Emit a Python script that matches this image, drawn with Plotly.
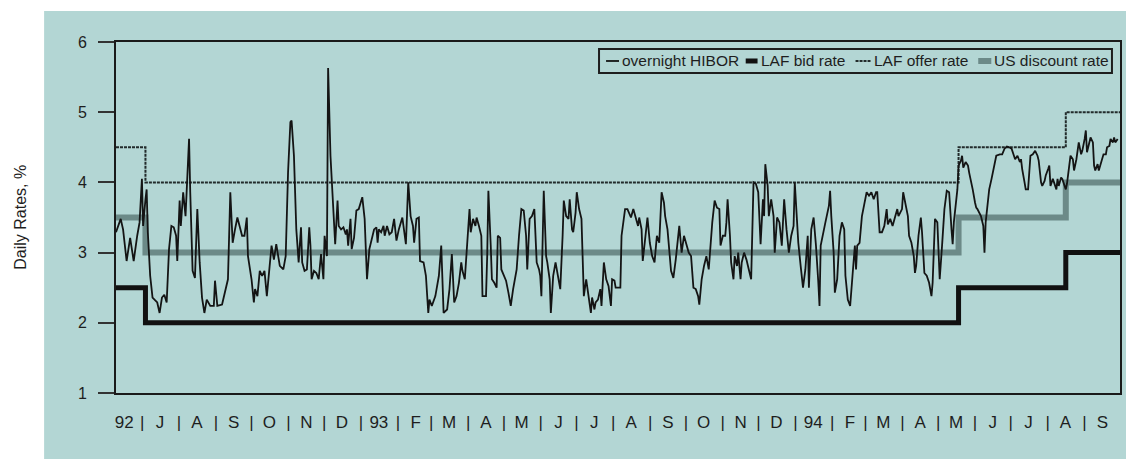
import pandas as pd
import plotly.graph_objects as go

# ---------------- data ----------------
START = "1992-06-01"
END = "1994-10-01"

# overnight HIBOR: days since 1 June 1992, rate %
hibor_day = [0,4,6,9,12,15,18,20,22,23,25,26,27,29,31,35,37,39,41,43,45,47,49,51,52,54,55,57,59,62,63,65,67,69,71,73,75,77,80,83,84,86,90,93,95,97,99,101,103,107,109,111,112,115,117,118,120,122,124,126,128,130,132,134,136,
             139,142,144,146,148,149,151,153,155,157,158,160,162,164,165,166,168,170,172,174,176,177,179,180,182,184,186,188,189,191,193,195,196,197,199,200,202,204,206,209,211,212,213,215,217,219,221,222,223,225,227,228,230,232,234,236,238,240,243,245,246,248,250,252,253,255,257,258,261,263,265,266,268,271,274,276,278,
             281,283,285,287,289,291,293,294,296,298,300,301,303,305,306,308,310,311,314,315,316,318,319,321,323,324,326,327,329,331,333,335,337,340,342,344,346,348,349,351,353,355,357,359,360,361,363,365,366,368,369,371,373,375,377,379,380,382,384,385,387,388,390,391,393,395,396,397,399,401,403,404,406,407,409,411,412,414,416,418,420,421,
             423,424,428,429,432,434,437,439,441,443,444,446,447,449,451,453,455,457,459,461,463,465,466,468,470,471,473,475,478,480,482,484,486,488,490,492,494,495,497,499,501,503,504,506,508,510,512,513,515,517,518,519,521,522,524,525,527,528,530,531,533,535,537,539,541,543,545,546,547,549,550,551,553,554,556,558,559,561,563,
             565,567,569,571,573,575,576,578,579,581,582,583,585,587,588,590,592,594,596,597,598,600,602,605,606,607,609,610,612,614,616,618,619,621,623,625,627,628,629,631,633,635,637,639,641,643,645,646,648,650,652,654,655,657,659,661,663,664,667,668,670,672,673,675,677,678,679,681,683,684,686,688,690,692,693,695,697,698,699,701,703,705,
             707,709,710,711,712,714,715,717,718,719,721,723,724,726,727,729,730,731,733,734,736,737,738,740,741,743,745,747,750,752,754,756,758,760,762,763,765,767,768,769,771,772,774,775,776,778,780,782,783,785,786,788,789,791,792,793,795,796,798,799,800,802,803,805,806,807,809,810,812,813,815,816,817,819,820,822,823,824,826,827,829,830,831,833,834,836,837,838,840,841,843,844,846,847,848,850]
hibor_rate = [3.29,3.48,3.33,2.88,3.21,2.88,3.24,3.43,4.05,3.38,3.76,3.90,3.29,2.67,2.36,2.29,2.14,2.36,2.40,2.29,3.05,3.38,3.36,3.24,2.88,3.74,3.38,3.86,3.52,4.62,3.86,2.74,2.64,3.62,2.86,2.36,2.14,2.33,2.24,2.24,2.60,2.24,2.26,2.48,2.62,3.86,3.14,3.33,3.50,3.24,3.24,3.50,2.95,2.62,2.29,2.48,2.38,2.74,2.67,2.74,2.38,2.74,3.10,2.90,3.12,
              2.81,2.76,2.95,4.14,4.86,4.88,4.38,3.33,2.86,3.36,2.86,2.74,2.76,3.36,3.10,2.62,2.74,2.71,2.62,2.98,2.62,3.24,2.95,5.63,4.38,3.76,3.12,3.74,3.38,3.33,3.36,3.26,3.33,3.10,3.48,3.05,3.21,3.60,3.62,3.79,3.48,3.05,2.62,3.05,3.21,3.33,3.36,3.14,3.33,3.29,3.38,3.24,3.38,3.26,3.29,3.48,3.17,3.33,3.50,3.24,3.12,4.00,3.52,3.38,3.14,3.48,3.50,2.88,2.86,2.67,2.14,2.33,2.24,2.38,2.67,3.10,2.14,
              2.19,2.48,2.98,2.29,2.38,2.57,2.86,2.74,2.62,3.14,3.62,3.29,3.48,3.38,3.50,3.38,3.24,2.38,2.38,2.95,3.88,3.10,2.62,2.57,2.50,3.24,3.21,2.76,2.67,2.60,2.43,2.24,2.48,2.76,3.24,3.62,3.60,3.24,2.76,3.48,3.52,3.62,2.86,2.76,2.67,2.38,3.88,2.95,2.86,2.62,2.14,2.67,2.86,2.67,2.48,3.24,3.74,3.52,3.48,3.76,3.33,3.29,3.57,3.86,3.62,3.48,2.86,2.38,2.62,2.40,2.14,2.36,2.19,2.29,2.33,2.48,2.24,2.86,2.62,2.52,2.24,2.62,
              2.60,2.50,2.50,3.24,3.62,3.62,3.50,3.62,3.48,3.38,3.50,3.33,2.88,3.24,3.50,3.14,2.95,2.86,3.24,3.14,3.86,3.71,3.52,3.33,2.86,2.74,2.64,2.90,3.38,3.00,3.24,3.10,3.00,2.95,2.50,2.48,2.38,2.26,2.62,2.81,2.95,2.76,3.00,3.43,3.74,3.64,3.62,3.10,3.24,3.24,3.43,3.76,3.24,2.86,2.62,2.95,2.81,3.00,2.62,2.86,3.00,2.90,2.76,2.62,4.00,3.98,3.86,3.52,3.12,3.76,3.52,4.26,3.95,3.52,3.76,3.52,3.00,3.50,3.43,
              3.10,3.76,3.33,3.00,3.24,3.38,4.00,3.43,3.14,2.81,2.60,2.50,2.76,3.24,2.50,3.33,3.50,3.10,2.57,2.24,3.10,3.29,3.43,3.67,3.88,3.52,3.00,2.43,2.62,3.24,3.43,3.33,2.67,2.33,2.24,2.67,3.10,2.76,3.10,3.14,3.52,3.69,3.86,3.81,3.86,3.76,3.86,3.86,3.29,3.29,3.38,3.62,3.40,3.48,3.38,3.50,3.62,3.52,3.62,3.86,3.69,3.52,3.24,3.14,2.95,2.71,2.81,3.24,3.50,3.29,2.71,2.67,2.57,2.38,2.57,3.48,3.43,2.95,2.62,3.10,3.62,3.88,
              3.86,3.33,3.12,3.43,3.62,3.90,4.24,4.31,4.38,4.21,4.29,4.24,4.14,4.00,3.90,3.71,3.64,3.62,3.55,3.52,3.38,3.00,3.43,3.71,3.90,4.05,4.24,4.38,4.40,4.40,4.48,4.51,4.50,4.48,4.38,4.33,4.38,4.29,4.33,4.19,4.00,3.90,3.90,4.14,4.38,4.40,4.45,4.38,4.31,4.00,3.95,4.02,4.10,4.19,4.24,3.95,4.05,4.00,3.90,4.05,3.95,4.07,4.05,3.95,3.90,3.98,4.24,4.38,4.33,4.17,4.33,4.43,4.57,4.40,4.45,4.62,4.74,4.43,4.57,4.64,4.57,4.24,4.17,4.26,4.17,4.29,4.31,4.40,4.40,4.50,4.52,4.62,4.57,4.64,4.57,4.62]

# policy rates (step changes)
step_dates = ["1992-06-01", "1992-06-26", "1994-05-17", "1994-08-16", "1994-10-01"]
laf_bid = [2.5, 2.0, 2.5, 3.0, 3.0]
laf_offer = [4.5, 4.0, 4.5, 5.0, 5.0]
us_discount = [3.5, 3.0, 3.5, 4.0, 4.0]

# x-axis month labels (June 1992 .. September 1994)
month_labels = ["92", "J", "A", "S", "O", "N", "D", "93", "F", "M", "A", "M", "J", "J",
                "A", "S", "O", "N", "D", "94", "F", "M", "A", "M", "J", "J", "A", "S"]
y_ticks = [1, 2, 3, 4, 5, 6]

series_names = ["overnight HIBOR", "LAF bid rate", "LAF offer rate", "US discount rate"]

# ---------------- styling ----------------
TEAL = "#b3d6d4"
INK = "#1e1e1e"
FONT = "Arial, Liberation Sans, sans-serif"
styles = {
    "overnight HIBOR": dict(color="#141414", width=1.8),
    "LAF bid rate": dict(color="#111111", width=5),
    "LAF offer rate": dict(color="#222b2b", width=2, dash="3px,1px"),
    "US discount rate": dict(color="#6c8a88", width=6),
}

# ---------------- build ----------------
start = pd.Timestamp(START)
hibor_dates = [start + pd.Timedelta(days=d) for d in hibor_day]

months = pd.date_range(START, periods=len(month_labels), freq="MS")
n = len(month_labels)
tickvals, ticktext = [], []
for i, lab in enumerate(month_labels):
    s = pd.Timedelta(days=8 * (1 - i / (n - 1)))
    tickvals.append(months[i] + pd.Timedelta(days=15) - s)
    ticktext.append(lab)
    if i < n - 1:
        s2 = pd.Timedelta(days=8 * (1 - (i + 0.5) / (n - 1)))
        tickvals.append(months[i + 1] - s2)
        ticktext.append("|")

fig = go.Figure()
fig.add_trace(go.Scatter(x=step_dates, y=us_discount, mode="lines", line_shape="hv",
                         name=series_names[3], line=styles[series_names[3]]))
fig.add_trace(go.Scatter(x=step_dates, y=laf_offer, mode="lines", line_shape="hv",
                         name=series_names[2], line=styles[series_names[2]]))
fig.add_trace(go.Scatter(x=step_dates, y=laf_bid, mode="lines", line_shape="hv",
                         name=series_names[1], line=styles[series_names[1]]))
fig.add_trace(go.Scatter(x=hibor_dates, y=hibor_rate, mode="lines",
                         name=series_names[0], line=styles[series_names[0]]))

# legend drawn as a framed key in the top-right corner of the plot
shapes = [dict(type="rect", xref="paper", yref="paper", layer="below",
               x0=-0.0716, x1=1.02, y0=-0.21, y1=1.088,
               fillcolor=TEAL, line=dict(width=0)),
          dict(type="rect", xref="paper", yref="paper",
               x0=0.4811, x1=0.9920, y0=0.9117, y1=0.9801,
               line=dict(color=INK, width=2), fillcolor="rgba(0,0,0,0)")]
annotations = [dict(text="Daily Rates, %", xref="paper", yref="paper",
                    x=-0.0954, y=0.5, textangle=-90, showarrow=False,
                    xanchor="center", yanchor="middle",
                    font=dict(size=16, family=FONT, color=INK))]
key_sym = [(0.4881, 0.5010), (0.6272, 0.6390), (0.7366, 0.7515), (0.8588, 0.8718)]
key_txt = [0.5020, 0.6400, 0.7530, 0.8728]
ky = 0.9459
for name, (a, b), tx in zip(series_names, key_sym, key_txt):
    st = styles[name]
    shapes.append(dict(type="line", xref="paper", yref="paper", x0=a, x1=b, y0=ky, y1=ky,
                       line=dict(color=st["color"], width=st["width"],
                                 dash=st.get("dash", "solid"))))
    annotations.append(dict(text=name, xref="paper", yref="paper", x=tx, y=ky,
                            xanchor="left", yanchor="middle", showarrow=False,
                            font=dict(size=15.5, family=FONT, color=INK)))

fig.update_layout(
    width=1126, height=451,
    margin=dict(l=108, r=12, t=34, b=66),
    paper_bgcolor="white", plot_bgcolor=TEAL,
    font=dict(family=FONT, color=INK, size=15),
    showlegend=False,
    shapes=shapes,
    annotations=annotations,
)
fig.update_xaxes(type="date", range=[START, END], showgrid=False, zeroline=False,
                 showline=True, linecolor="#1a1a1a", linewidth=2, mirror=True,
                 tickmode="array", tickvals=tickvals, ticktext=ticktext, ticks="",
                 ticklabelstandoff=13, tickfont=dict(size=17, family=FONT, color=INK))
fig.update_yaxes(range=[1, 6], tickvals=y_ticks, showgrid=False, zeroline=False,
                 showline=True, linecolor="#1a1a1a", linewidth=2, mirror=True,
                 ticks="outside", ticklen=16, tickwidth=2, tickcolor="#333333",
                 ticklabelstandoff=8, tickfont=dict(size=16, family=FONT, color=INK))

fig.write_html("out.html")
